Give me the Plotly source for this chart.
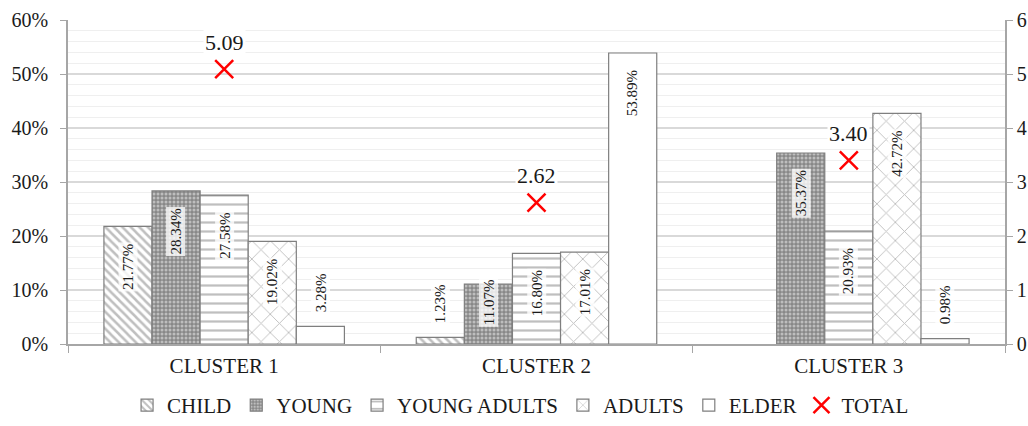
import plotly.graph_objects as go

clusters = ["CLUSTER 1", "CLUSTER 2", "CLUSTER 3"]
child = [21.77, 1.23, None]
young = [28.34, 11.07, 35.37]
young_adults = [27.58, 16.80, 20.93]
adults = [19.02, 17.01, 42.72]
elder = [3.28, 53.89, 0.98]
total = [5.09, 2.62, 3.40]

series_names = ["CHILD", "YOUNG", "YOUNG ADULTS", "ADULTS", "ELDER"]
series_vals = [child, young, young_adults, adults, elder]

GRAY = "#7f7f7f"
FONT = "Liberation Serif"
patterns = [
    dict(shape="\\", fgcolor=GRAY, bgcolor="white", size=6, solidity=0.42),
    dict(shape=".", fgcolor="#f4f4f4", bgcolor="#888888", size=4, solidity=0.45),
    dict(shape="-", fgcolor=GRAY, bgcolor="white", size=9, solidity=0.25),
    dict(shape="x", fgcolor=GRAY, bgcolor="white", size=13, solidity=0.14),
    dict(shape="", fgcolor=GRAY, bgcolor="white"),
]

bargap = 0.23
xs = list(range(len(clusters)))

fig = go.Figure()
for name, vals, pat in zip(series_names, series_vals, patterns):
    fig.add_trace(go.Bar(
        name=name, x=xs, y=vals,
        marker=dict(color="white", pattern=pat, line=dict(color=GRAY, width=1.2)),
        hoverinfo="skip",
    ))

fig.add_trace(go.Scatter(
    name="TOTAL", x=xs, y=total, yaxis="y2", mode="markers",
    marker=dict(symbol="x-thin-open", size=18, color="red", line=dict(color="red", width=2.5)),
))

annotations = []
w = (1 - bargap) / len(series_names)
for i, vals in enumerate(series_vals):
    for k, v in enumerate(vals):
        if v is None:
            continue
        xpos = k + (i - (len(series_names) - 1) / 2) * w
        if v > 10:
            yc = max(v - 7.5, 7.8)
        else:
            yc = v + 6.2
        annotations.append(dict(
            x=xpos, y=yc, xref="x", yref="y", text=f"{v:.2f}%", textangle=-90,
            showarrow=False, font=dict(family=FONT, size=15, color="#1a1a1a"),
            bgcolor="rgba(255,255,255,0.78)", borderpad=1,
        ))
for k, v in enumerate(total):
    annotations.append(dict(
        x=k, y=v, xref="x", yref="y2", text=f"{v:.2f}", showarrow=False, yshift=27,
        font=dict(family=FONT, size=22, color="#1a1a1a"), bgcolor="white", borderpad=1,
    ))

fig.update_layout(
    width=1028, height=426,
    margin=dict(l=68, r=23, t=20, b=82, autoexpand=False),
    barmode="group", bargap=bargap, bargroupgap=0,
    plot_bgcolor="white", paper_bgcolor="white",
    font=dict(family=FONT, size=20, color="#1a1a1a"),
    showlegend=True,
    legend=dict(orientation="h", x=0.483, xanchor="center", y=0, yref="container",
                yanchor="bottom", font=dict(family=FONT, size=21), itemwidth=30,
                tracegroupgap=0),
    xaxis=dict(
        tickmode="array", tickvals=xs, ticktext=clusters, range=[-0.5, 2.5],
        showline=True, linecolor="#a6a6a6", linewidth=1.5, automargin=False,
        ticks="", showgrid=False, ticklabelstandoff=2,
        minor=dict(tickvals=[-0.5, 0.5, 1.5, 2.5], ticks="outside", ticklen=7,
                   tickcolor="#a6a6a6", showgrid=False),
        tickfont=dict(family=FONT, size=21),
    ),
    yaxis=dict(
        range=[0, 60], dtick=10, ticksuffix="%", showline=True, linecolor="#a6a6a6",
        linewidth=1.5, ticks="outside", ticklen=6, tickcolor="#a6a6a6", automargin=False,
        showgrid=True, gridcolor="#d9d9d9", gridwidth=1.5, zeroline=False,
        ticklabelstandoff=8,
        minor=dict(dtick=2, showgrid=True, gridcolor="#efefef", gridwidth=1),
        tickfont=dict(family=FONT, size=20),
    ),
    yaxis2=dict(
        range=[0, 6], dtick=1, overlaying="y", side="right", showline=True,
        linecolor="#a6a6a6", linewidth=1.5, ticks="outside", ticklen=6, automargin=False,
        tickcolor="#a6a6a6", showgrid=False, zeroline=False,
        tickfont=dict(family=FONT, size=20),
    ),
    annotations=annotations,
)

fig.write_html("out.html", config={"displayModeBar": False},
               post_script="document.body.style.margin='0';")
